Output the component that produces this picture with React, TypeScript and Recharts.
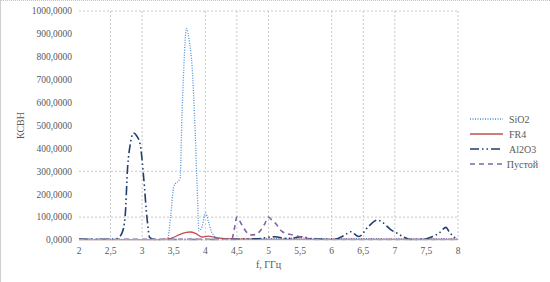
import { LineChart, Line, XAxis, YAxis, CartesianGrid, Legend } from 'recharts';

// frequency points (GHz) and VSWR values for each sample
const sio2F = [2, 2.5, 3, 3.4, 3.45, 3.5, 3.6, 3.63, 3.66, 3.7, 3.75, 3.79, 3.84, 3.87, 3.9, 3.95, 4, 4.05, 4.1, 4.2, 4.5, 5, 5.5, 6, 6.5, 7, 7.5, 8];
const sio2V = [3, 3, 2, 2, 100, 233, 270, 540, 757, 924, 860, 757, 467, 233, 40, 60, 118, 80, 35, 8, 5, 6, 8, 5, 6, 5, 5, 4];

const fr4F = [2, 3.3, 3.4, 3.5, 3.6, 3.7, 3.76, 3.85, 3.95, 4.05, 4.15, 4.3, 4.5, 5, 6, 7, 8];
const fr4V = [2, 2, 4, 12, 25, 33, 35, 28, 13, 17, 12, 6, 4, 3, 3, 3, 3];

const al2o3F = [2, 2.5, 2.6, 2.68, 2.73, 2.77, 2.81, 2.86, 2.9, 2.97, 3.02, 3.08, 3.12, 3.2, 4, 4.8, 5.1, 5.3, 5.53, 5.7, 6, 6.1, 6.2, 6.3, 6.43, 6.57, 6.72, 6.8, 6.94, 7.02, 7.15, 7.25, 7.45, 7.6, 7.7, 7.81, 7.86, 7.94, 8];
const al2o3V = [4, 3, 6, 30, 102, 320, 415, 467, 460, 415, 284, 87, 10, 2, 2, 5, 14, 6, 14, 4, 3, 7, 20, 36, 15, 55, 87, 78, 44, 32, 12, 2, 3, 15, 30, 55, 36, 12, 4];

const emptyF = [2, 4.3, 4.42, 4.46, 4.5, 4.55, 4.61, 4.71, 4.8, 4.87, 4.94, 5, 5.05, 5.11, 5.22, 5.38, 5.53, 5.72, 8];
const emptyV = [3, 3, 5, 50, 100, 80, 51, 22, 24, 40, 70, 100, 88, 73, 36, 22, 12, 2, 2];

const xTicks = [2, 2.5, 3, 3.5, 4, 4.5, 5, 5.5, 6, 6.5, 7, 7.5, 8];
const yTicks = [0, 100, 200, 300, 400, 500, 600, 700, 800, 900, 1000];

const toPoints = (f: number[], v: number[]) => f.map((x, i) => ({ f: x, v: v[i] }));

const series = [
  { name: 'SiO2', data: toPoints(sio2F, sio2V), color: '#4a8fd6', dash: '1 1.5', width: 1.3 },
  { name: 'FR4', data: toPoints(fr4F, fr4V), color: '#c0504d', dash: undefined, width: 1.3 },
  { name: 'Al2O3', data: toPoints(al2o3F, al2o3V), color: '#1f3f6e', dash: '9 3 1.5 3 1.5 3', width: 1.6 },
  { name: 'Пустой', data: toPoints(emptyF, emptyV), color: '#8064a2', dash: '5 4', width: 1.6 },
];

const fmt = (v: number) => v.toFixed(4).replace('.', ',');
const font = 'Liberation Serif, Times New Roman, DejaVu Serif, serif';

function LegendBox() {
  return (
    <div style={{ fontFamily: font, fontSize: 10, color: '#595959' }}>
      {series.map((s) => (
        <div key={s.name} style={{ display: 'flex', alignItems: 'center', height: 15 }}>
          <svg width={38} height={6} style={{ marginLeft: 12 }}>
            <line x1={0} y1={3} x2={33} y2={3} stroke={s.color} strokeWidth={s.width} strokeDasharray={s.dash} />
          </svg>
          <span style={{ marginLeft: 1 }}>{s.name}</span>
        </div>
      ))}
    </div>
  );
}

export default function App() {
  return (
    <div
      style={{
        position: 'fixed',
        left: 0,
        top: 0,
        width: 550,
        height: 282,
        background: '#fff',
        borderTop: '1px dotted #c4c4c4',
        borderLeft: '1px solid #cfcfcf',
        boxSizing: 'border-box',
      }}
    >
      <LineChart width={549} height={281} margin={{ top: 10, right: 12, bottom: 0, left: 0 }}>
        <CartesianGrid
          stroke="#c8c8c8"
          strokeDasharray="2 2"
          horizontalValues={[100, 300, 1000]}
          verticalValues={[2.5, 3, 4, 4.5, 5, 6, 6.5, 7, 8]}
        />
        <XAxis
          type="number"
          dataKey="f"
          domain={[2, 8]}
          ticks={xTicks}
          tickFormatter={(v: number) => String(v).replace('.', ',')}
          height={42}
          tickSize={0}
          tickMargin={7}
          axisLine={{ stroke: '#d9d9d9' }}
          tick={{ fill: '#595959', fontSize: 9.5, fontFamily: font }}
          label={{ value: 'f, ГГц', position: 'insideBottom', offset: 14, fill: '#595959', fontSize: 10, fontFamily: font }}
        />
        <YAxis
          type="number"
          domain={[0, 1000]}
          ticks={yTicks}
          tickFormatter={fmt}
          width={78}
          tickSize={0}
          tickMargin={7}
          axisLine={false}
          tick={{ fill: '#595959', fontSize: 9.5, fontFamily: font }}
          label={{ value: 'КСВН', angle: -90, position: 'center', dx: -20, fill: '#595959', fontSize: 10, fontFamily: font }}
        />
        <Legend layout="vertical" align="right" verticalAlign="middle" wrapperStyle={{ width: 80 }} content={() => <LegendBox />} />
        {series.map((s) => (
          <Line
            key={s.name}
            data={s.data}
            dataKey="v"
            name={s.name}
            type="monotone"
            stroke={s.color}
            strokeWidth={s.width}
            strokeDasharray={s.dash}
            dot={false}
            activeDot={false}
            isAnimationActive={false}
          />
        ))}
      </LineChart>
    </div>
  );
}
